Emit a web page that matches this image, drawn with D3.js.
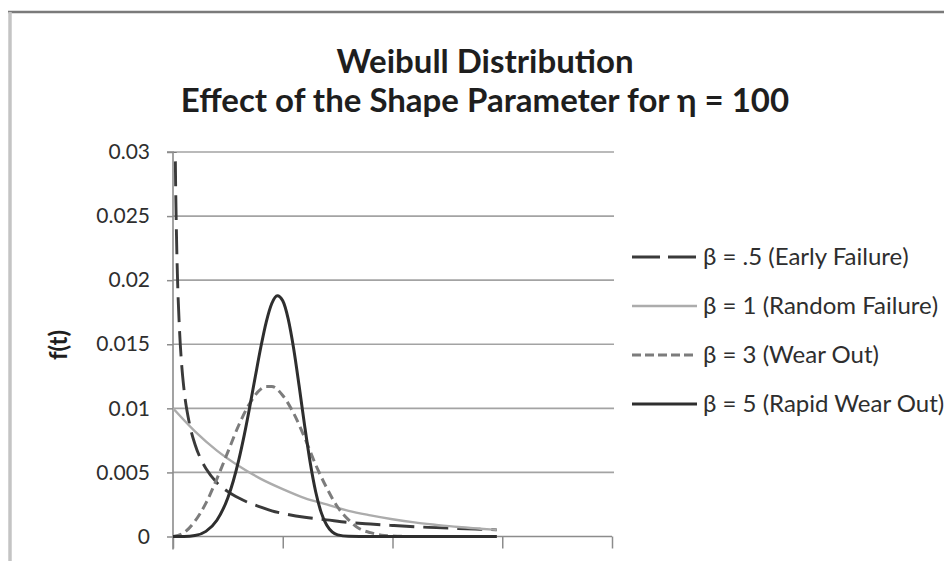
<!DOCTYPE html>
<html>
<head>
<meta charset="utf-8">
<script src="https://cdn.jsdelivr.net/npm/d3@7"></script>
<style>
  html, body { margin: 0; padding: 0; background: #fff; }
  svg { display: block; }
</style>
</head>
<body>
<script>
// Weibull pdf curves, eta = 100, sampled at the listed times
const t05 = [1, 2, 3, 4, 6, 8, 10, 15, 20, 25, 30, 40, 50, 60, 70, 80, 90, 100, 120, 140, 160, 180, 200, 220, 240, 260, 280, 295];
const f05 = [0.0452, 0.0307, 0.0243, 0.0205, 0.0160, 0.0133, 0.0115, 0.0088, 0.0072, 0.0061, 0.0053, 0.0042, 0.0035, 0.0030, 0.0026, 0.0023, 0.0020, 0.0018, 0.0015, 0.0013, 0.0011, 0.00097, 0.00086, 0.00076, 0.00069, 0.00062, 0.00056, 0.00052];

const t1 = [0, 20, 40, 60, 80, 100, 120, 140, 160, 180, 200, 220, 240, 260, 280, 295];
const f1 = [0.0100, 0.0082, 0.0067, 0.0055, 0.0045, 0.0037, 0.0030, 0.0025, 0.0020, 0.00165, 0.00135, 0.0011, 0.00091, 0.00074, 0.00061, 0.00052];

const t3 = [0, 10, 20, 30, 40, 50, 60, 70, 80, 85, 90, 100, 110, 120, 130, 140, 150, 160, 170, 180, 190, 200, 220, 240, 260, 280, 295];
const f3 = [0, 0.0003, 0.0012, 0.0026, 0.0045, 0.0066, 0.0087, 0.0104, 0.0115, 0.0117, 0.0117, 0.0110, 0.0096, 0.0077, 0.0056, 0.0038, 0.0023, 0.0013, 0.0006, 0.0003, 0.0001, 0.00004, 0, 0, 0, 0, 0];

const t5 = [0, 10, 20, 30, 40, 50, 55, 60, 65, 70, 75, 80, 85, 90, 95, 100, 105, 110, 115, 120, 125, 130, 135, 140, 145, 150, 160, 170, 200, 250, 295];
const f5 = [0, 0.000005, 0.00008, 0.0004, 0.00127, 0.00303, 0.00435, 0.0060, 0.00795, 0.01015, 0.01248, 0.01476, 0.01675, 0.01818, 0.01879, 0.01839, 0.01696, 0.01463, 0.0117, 0.00861, 0.00577, 0.00349, 0.00188, 0.00089, 0.00036, 0.00013, 0.00001, 0, 0, 0, 0];

const seriesNames = ["β = .5 (Early Failure)", "β = 1 (Random Failure)", "β = 3 (Wear Out)", "β = 5 (Rapid Wear Out)"];
const yTicks = [0, 0.005, 0.01, 0.015, 0.02, 0.025, 0.03];
const yTickLabels = ["0", "0.005", "0.01", "0.015", "0.02", "0.025", "0.03"];
const xTicks = [0, 100, 200, 300, 400];
const titleLines = ["Weibull Distribution", "Effect of the Shape Parameter for η = 100"];
const yTitle = "f(t)";

const W = 944, H = 561;
const plot = { left: 173, right: 612, top: 152, bottom: 536.5 };
const font = "Lato, 'Open Sans', sans-serif";

const svg = d3.select("body").append("svg").attr("width", W).attr("height", H);

// outer chart frame (top and left edges show)
svg.append("line").attr("x1", 8).attr("x2", W).attr("y1", 12).attr("y2", 12)
  .attr("stroke", "#7a7a7a").attr("stroke-width", 2.5);
svg.append("line").attr("x1", 10).attr("x2", 10).attr("y1", 12).attr("y2", H)
  .attr("stroke", "#c4c4c4").attr("stroke-width", 3.5);

const x = d3.scaleLinear().domain([0, 400]).range([plot.left, plot.right]);
const y = d3.scaleLinear().domain([0, 0.03]).range([plot.bottom, plot.top]);

// horizontal gridlines
svg.append("g").selectAll("line").data(yTicks.slice(1)).join("line")
  .attr("x1", plot.left).attr("x2", plot.right + 2)
  .attr("y1", d => y(d)).attr("y2", d => y(d))
  .attr("stroke", "#a3a3a3").attr("stroke-width", 1.6);

// y axis
const yAxis = d3.axisLeft(y).tickValues(yTicks).tickSize(6).tickPadding(17)
  .tickFormat((d, i) => yTickLabels[i]);
const gy = svg.append("g").attr("transform", `translate(${plot.left},0)`).call(yAxis);
gy.select(".domain").attr("stroke", "#8c8c8c").attr("stroke-width", 1.6)
  .attr("d", `M-6,${plot.top}H0V${plot.bottom + 13}`);
gy.selectAll(".tick line").attr("stroke", "#8c8c8c").attr("stroke-width", 1.5);
gy.selectAll(".tick text").attr("font-family", font).attr("font-size", 21)
  .attr("fill", "#2e2e2e");

// x axis (ticks only, no labels)
const xAxis = d3.axisBottom(x).tickValues(xTicks).tickSize(12).tickFormat("");
const gx = svg.append("g").attr("transform", `translate(0,${plot.bottom})`).call(xAxis);
gx.select(".domain").attr("stroke", "#8c8c8c").attr("stroke-width", 1.6)
  .attr("d", `M${plot.left},0H${plot.right}`);
gx.selectAll(".tick line").attr("stroke", "#8c8c8c").attr("stroke-width", 1.5);

// clip curves to the plot area
svg.append("clipPath").attr("id", "plotClip").append("rect")
  .attr("x", plot.left).attr("y", plot.top).attr("width", plot.right - plot.left).attr("height", plot.bottom - plot.top + 2);

const series = [
  { name: seriesNames[0], t: t05, f: f05, color: "#3a3a3a", width: 2.9, dash: "25,9", legendDash: "28,8" },
  { name: seriesNames[1], t: t1, f: f1, color: "#acacac", width: 2.4, dash: null, legendDash: null },
  { name: seriesNames[2], t: t3, f: f3, color: "#7c7c7c", width: 3, dash: "9,5", legendDash: "9,4" },
  { name: seriesNames[3], t: t5, f: f5, color: "#2e2e2e", width: 3, dash: null, legendDash: null }
];

const line = d3.line().x(d => x(d[0])).y(d => y(d[1])).curve(d3.curveMonotoneX);

const gLines = svg.append("g").attr("clip-path", "url(#plotClip)");
series.forEach(s => {
  gLines.append("path")
    .datum(d3.zip(s.t, s.f))
    .attr("d", line)
    .attr("fill", "none")
    .attr("stroke", s.color)
    .attr("stroke-width", s.width)
    .attr("stroke-linejoin", "round")
    .attr("stroke-dasharray", s.dash);
});

// legend
const legendY = d3.scalePoint().domain(seriesNames).range([257, 404]);
const gLeg = svg.append("g");
series.forEach(s => {
  const ly = legendY(s.name);
  gLeg.append("line").attr("x1", 632).attr("x2", 697).attr("y1", ly).attr("y2", ly)
    .attr("stroke", s.color).attr("stroke-width", s.width)
    .attr("stroke-dasharray", s.legendDash);
  gLeg.append("text").attr("x", 703).attr("y", ly).attr("dy", "0.35em")
    .attr("font-family", font).attr("font-size", 24).attr("fill", "#2e2e2e")
    .text(s.name);
});

// titles
svg.append("g").selectAll("text").data(titleLines).join("text")
  .attr("x", 485).attr("y", (d, i) => 73 + i * 39)
  .attr("text-anchor", "middle")
  .attr("font-family", font).attr("font-weight", 700).attr("font-size", 33)
  .attr("fill", "#1e1e1e")
  .text(d => d);

svg.append("text")
  .attr("transform", "translate(67,345) rotate(-90)")
  .attr("text-anchor", "middle")
  .attr("font-family", font).attr("font-weight", 700).attr("font-size", 24)
  .attr("fill", "#1e1e1e")
  .text(yTitle);
</script>
</body>
</html>
